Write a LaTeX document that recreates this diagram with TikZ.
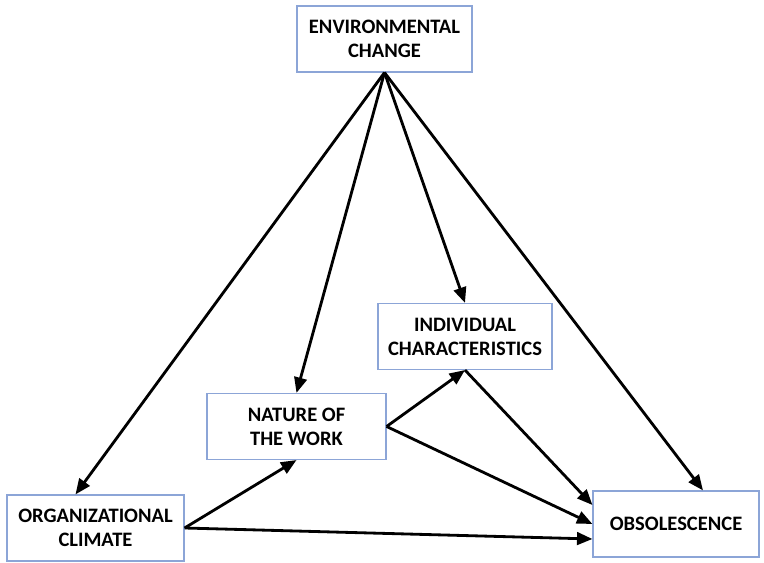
\documentclass[tikz,border=0pt]{standalone}
\usepackage{fontspec}
\setmainfont{Carlito}
\usetikzlibrary{arrows.meta, positioning, calc}
\definecolor{boxblue}{RGB}{140,165,215}

\begin{document}
\begin{tikzpicture}[
    x=0.025cm, y=-0.025cm,
    every node/.style={font=\bfseries\fontsize{14.6}{17}\selectfont}, % 统一字体
    box/.style={draw=boxblue, thick, fill=white, align=center, inner sep=0pt,
                minimum height=1.65cm}, % 方框
    arr/.style={line width=2pt, black, -{Triangle[length=11pt, width=9pt]}} % 粗箭头
]
    \useasboundingbox (0,0) rectangle (764,563);

    % 1. 方框
    \node[box, minimum width=4.375cm] (env)    at (384.5, 39)  {ENVIRONMENTAL\\CHANGE};
    \node[box, minimum width=4.35cm]  (indiv)  at (465, 336.5) {INDIVIDUAL\\CHARACTERISTICS};
    \node[box, minimum width=4.475cm] (nature) at (296.5, 426.5) {NATURE OF\\THE WORK};
    \node[box, minimum width=4.425cm] (org)    at (95.5, 528)  {ORGANIZATIONAL\\CLIMATE};
    \node[box, minimum width=4.15cm]  (obs)    at (676, 524)   {OBSOLESCENCE};

    % 2. 从ENVIRONMENTAL CHANGE出发的箭头
    \draw[arr] (env.south) -- ([xshift=-0.5cm]org.north);
    \draw[arr] (env.south) -- (nature.north);
    \draw[arr] (env.south) -- (indiv.north);
    \draw[arr] (env.south) -- ([xshift=0.675cm]obs.north);

    % 3. 其余箭头
    \draw[arr] (org.east) -- (nature.south);
    \draw[arr] (org.east) -- ([yshift=-0.375cm]obs.west);
    \draw[arr] (nature.east) -- (indiv.south);
    \draw[arr] (nature.east) -- (obs.west);
    \draw[arr] (indiv.south) -- ([yshift=0.475cm]obs.west);

\end{tikzpicture}
\end{document}
